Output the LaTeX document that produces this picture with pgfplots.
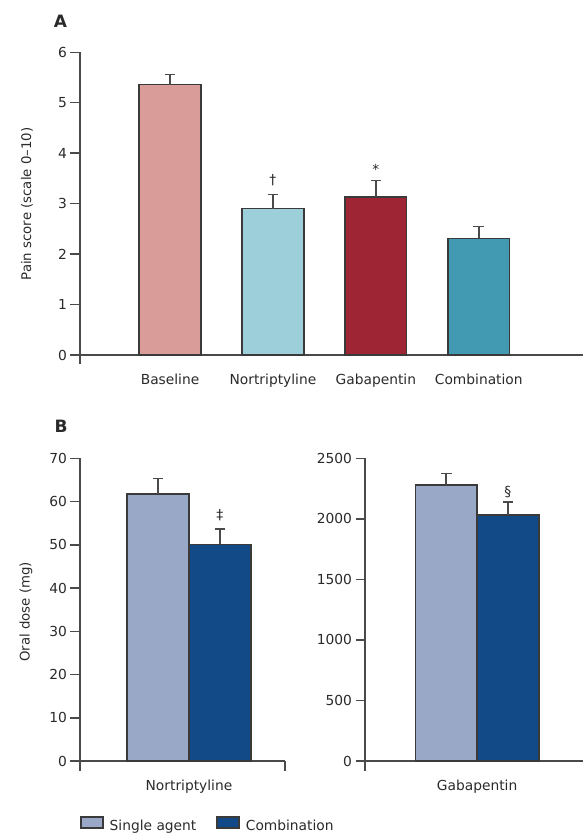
\documentclass[border=0pt]{standalone}
\usepackage{fontspec}
\setmainfont{DejaVu Sans}
\usepackage{pgfplots}
\pgfplotsset{compat=1.18}

\definecolor{baseC}{HTML}{D99C98}
\definecolor{nortC}{HTML}{9DCFDB}
\definecolor{gabaC}{HTML}{9E2634}
\definecolor{combC}{HTML}{4199B2}
\definecolor{singleB}{HTML}{9AA8C7}
\definecolor{combB}{HTML}{114A87}
\definecolor{edgeC}{HTML}{3A3A3A}
\definecolor{axisC}{HTML}{4A4A4A}
\definecolor{textC}{HTML}{2A2A2A}

\newcommand{\figfont}{\fontsize{13.8}{16}\selectfont}

\pgfplotsset{
  panel/.style={
    scale only axis,
    axis x line*=bottom,
    axis y line*=left,
    axis line style={draw=axisC, line width=1.5pt},
    ymin=0,
    tick align=outside,
    major tick length=9.5pt,
    y tick style={draw=axisC, line width=1.5pt},
    x tick style={draw=none},
    extra x tick style={x tick style={draw=axisC, line width=1.5pt}},
    extra x tick labels={},
    tick label style={font=\figfont, text=textC},
    xticklabel style={yshift=-5.5pt},
    /pgf/number format/assume math mode=true,
    /pgf/number format/1000 sep={},
    clip=false,
  },
  errs/.style={
    error bars/y dir=plus, error bars/y explicit,
    error bars/error bar style={draw=axisC, line width=1.6pt},
    error bars/error mark options={rotate=90, draw=axisC, line width=1.6pt, mark size=5.3pt},
  },
  barA/.style={
    ybar, bar shift=0pt, bar width=0.6, draw=edgeC, line width=1.5pt, errs,
  },
  barB/.style={
    ybar, bar shift=0pt, bar width=1, draw=edgeC, line width=1.5pt, errs,
  },
}

\begin{document}
\begin{tikzpicture}[x=1pt, y=1pt]
\useasboundingbox (0,0) rectangle (583,835);

% Panel A: pain scores
\begin{axis}[panel,
  at={(80pt,480pt)}, anchor=south west,
  width=503pt, height=302.7pt,
  xmin=-0.875, xmax=4.013, ymax=6,
  ytick={0,1,...,6},
  xtick={0,1,2,3},
  xticklabels={Baseline, Nortriptyline, Gabapentin, Combination},
  extra x ticks={-0.875},
]
\addplot[barA, fill=baseC] coordinates {(0,5.36) +- (0,0.20)};
\addplot[barA, fill=nortC] coordinates {(1,2.90) +- (0,0.28)};
\addplot[barA, fill=gabaC] coordinates {(2,3.13) +- (0,0.33)};
\addplot[barA, fill=combC] coordinates {(3,2.31) +- (0,0.24)};
\node[font=\figfont, text=textC] at (axis cs:1,3.47) {†};
\node[font=\figfont, text=textC] at (axis cs:2,3.68) {*};
\end{axis}

% Panel B, left: nortriptyline dose
\begin{axis}[panel,
  at={(80pt,74pt)}, anchor=south west,
  width=205pt, height=302.7pt,
  xmin=-1.762, xmax=1.553, ymax=70,
  ytick={0,10,...,70},
  xtick={0},
  xticklabels={Nortriptyline},
  extra x ticks={-1.762,1.553},
  legend columns=2,
  legend style={at={(axis description cs:0.0,-0.212)}, anchor=west,
    draw=none, fill=none, inner sep=0pt, font=\figfont, text=textC,
    /tikz/every even column/.append style={column sep=18pt}},
  legend image code/.code={\draw[#1, line width=1.5pt] (0pt,-2pt) rectangle (22pt,9pt);
    \path (26pt,0pt);},
]
\addplot[barB, fill=singleB] coordinates {(-0.5,61.7) +- (0,3.6)};
\addplot[barB, fill=combB] coordinates {(0.5,50.1) +- (0,3.6)};
\node[font=\figfont, text=textC] at (axis cs:0.5,56.9) {‡};
\legend{Single agent, Combination}
\end{axis}

% Panel B, right: gabapentin dose
\begin{axis}[panel,
  at={(365pt,74pt)}, anchor=south west,
  width=218pt, height=302.7pt,
  xmin=-1.816, xmax=1.717, ymax=2500,
  ytick={0,500,...,2500},
  xtick={0},
  xticklabels={Gabapentin},
  extra x ticks={-1.816},
]
\addplot[barB, fill=singleB] coordinates {(-0.5,2279) +- (0,97)};
\addplot[barB, fill=combB] coordinates {(0.5,2031) +- (0,110)};
\node[font=\figfont, text=textC] at (axis cs:0.5,2220) {§};
\end{axis}

% Panel letters and axis titles
\node[font=\fontsize{17}{19}\selectfont\bfseries, text=textC] at (60.5,814) {A};
\node[font=\fontsize{17}{19}\selectfont\bfseries, text=textC] at (61,408.5) {B};
\node[font=\fontsize{13.3}{16}\selectfont, text=textC, rotate=90] at (27,631) {Pain score (scale 0--10)};
\node[font=\fontsize{13.3}{16}\selectfont, text=textC, rotate=90] at (26,223) {Oral dose (mg)};
\end{tikzpicture}
\end{document}
